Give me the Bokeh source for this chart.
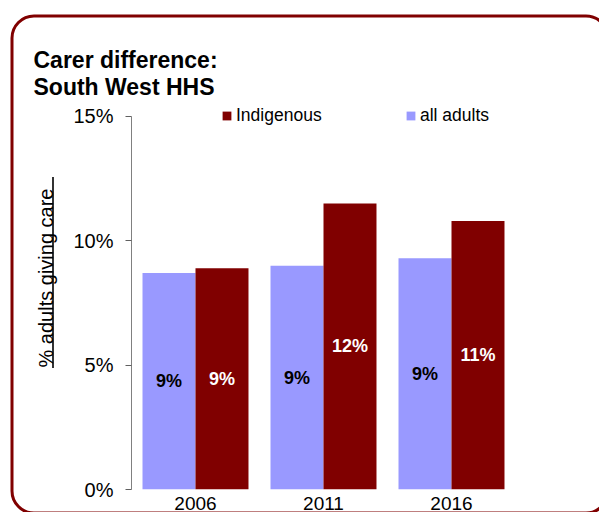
import urllib.parse
from bokeh.plotting import figure
from bokeh.models import (ColumnDataSource, FactorRange, Range1d, FixedTicker,
                          PrintfTickFormatter, Label, Legend, LegendItem, Title)
from bokeh.transform import dodge
from bokeh.core.properties import value
from bokeh.embed import file_html
from bokeh.resources import INLINE

# ---- data ----
years = ["2006", "2011", "2016"]
all_adults = [8.7, 9.0, 9.3]
indigenous = [8.9, 11.5, 10.8]
y_ticks = [0, 5, 10, 15]
title_lines = ["Carer difference:", "South West HHS"]
series_names = ["Indigenous", "all adults"]
y_axis_title = "% adults giving care"

FONT = "Liberation Sans"
RED = "#800000"
BLUE = "#9999FF"

src = ColumnDataSource(dict(
    year=years,
    all=all_adults,
    ind=indigenous,
    all_mid=[v / 2 for v in all_adults],
    ind_mid=[v / 2 for v in indigenous],
    all_lbl=[f"{int(v + 0.5)}%" for v in all_adults],
    ind_lbl=[f"{int(v + 0.5)}%" for v in indigenous],
))

# decorative rounded frame + underline of the axis title (page background)
deco = ("<svg xmlns='http://www.w3.org/2000/svg' width='599' height='512'>"
        "<rect x='12' y='16' width='596' height='497' rx='22' ry='22' fill='none' "
        "stroke='#800000' stroke-width='3'/>"
        "<line x1='53' y1='177' x2='53' y2='368' stroke='black' stroke-width='1.6'/>"
        "</svg>")
deco_url = "data:image/svg+xml," + urllib.parse.quote(deco)

p = figure(width=599, height=512,
           x_range=FactorRange(factors=years, range_padding=0),
           y_range=Range1d(0, 15.64),
           output_backend="svg", toolbar_location=None,
           min_border_left=131, min_border_right=84,
           min_border_top=100, min_border_bottom=23)
p.styles = {"background-image": f'url("{deco_url}")',
            "background-repeat": "no-repeat",
            "background-position": "0 0",
            "background-color": "white"}
p.outline_line_color = None
p.background_fill_color = "white"
p.border_fill_alpha = 0
p.xgrid.visible = False
p.ygrid.visible = False

OFF = 0.207
W = 0.414
r_all = p.vbar(x=dodge("year", -OFF, range=p.x_range), top="all", width=W,
               source=src, fill_color=BLUE, line_color=None)
r_ind = p.vbar(x=dodge("year", OFF, range=p.x_range), top="ind", width=W,
               source=src, fill_color=RED, line_color=None)

p.text(x=dodge("year", -OFF, range=p.x_range), y="all_mid", text="all_lbl", source=src,
       text_font=value(FONT), text_font_size="18px", text_font_style="bold",
       text_color="black", text_align="center", text_baseline="middle")
p.text(x=dodge("year", OFF, range=p.x_range), y="ind_mid", text="ind_lbl", source=src,
       text_font=value(FONT), text_font_size="18px", text_font_style="bold",
       text_color="white", text_align="center", text_baseline="middle")

# y axis
ya = p.yaxis[0]
ya.bounds = (0, 15)
ya.ticker = FixedTicker(ticks=y_ticks)
ya.formatter = PrintfTickFormatter(format="%d%%")
ya.minor_tick_line_color = None
ya.major_tick_in = 0
ya.major_tick_out = 6
ya.axis_line_color = "#808080"
ya.major_tick_line_color = "#606060"
ya.major_label_standoff = 12
ya.major_label_text_font = FONT
ya.major_label_text_font_size = "20px"
ya.major_label_text_color = "black"

# x axis
xa = p.xaxis[0]
xa.axis_line_color = None
xa.major_tick_line_color = None
xa.minor_tick_line_color = None
xa.major_label_standoff = 1
xa.major_label_text_font = FONT
xa.major_label_text_font_size = "19px"
xa.major_label_text_color = "black"

# legend (inside the frame, near its top)
legend = Legend(items=[LegendItem(label=series_names[0], renderers=[r_ind]),
                       LegendItem(label=series_names[1], renderers=[r_all])],
                orientation="horizontal", location=(90, 363),
                glyph_width=11, glyph_height=11, label_standoff=4, label_width=169,
                label_height=17, spacing=0, padding=0, margin=0,
                border_line_color=None, background_fill_alpha=0,
                label_text_font=FONT, label_text_font_size="17.5px",
                label_text_color="black")
p.add_layout(legend, "center")

# chart title (two bold lines) in the top panel
p.add_layout(Label(x=33, y=59, x_units="canvas", y_units="canvas", text=title_lines[0],
                   text_font=FONT, text_font_size="23px", text_font_style="bold",
                   text_baseline="alphabetic", text_color="black"), "above")
p.add_layout(Label(x=33, y=86, x_units="canvas", y_units="canvas", text=title_lines[1],
                   text_font=FONT, text_font_size="23px", text_font_style="bold",
                   text_baseline="alphabetic", text_color="black"), "above")

# y axis title
p.add_layout(Title(text=y_axis_title, align="left", offset=122, standoff=27,
                   text_font=FONT, text_font_size="20px", text_font_style="normal",
                   text_color="black"), "left")

open("out.html", "w").write(file_html(p, INLINE))
